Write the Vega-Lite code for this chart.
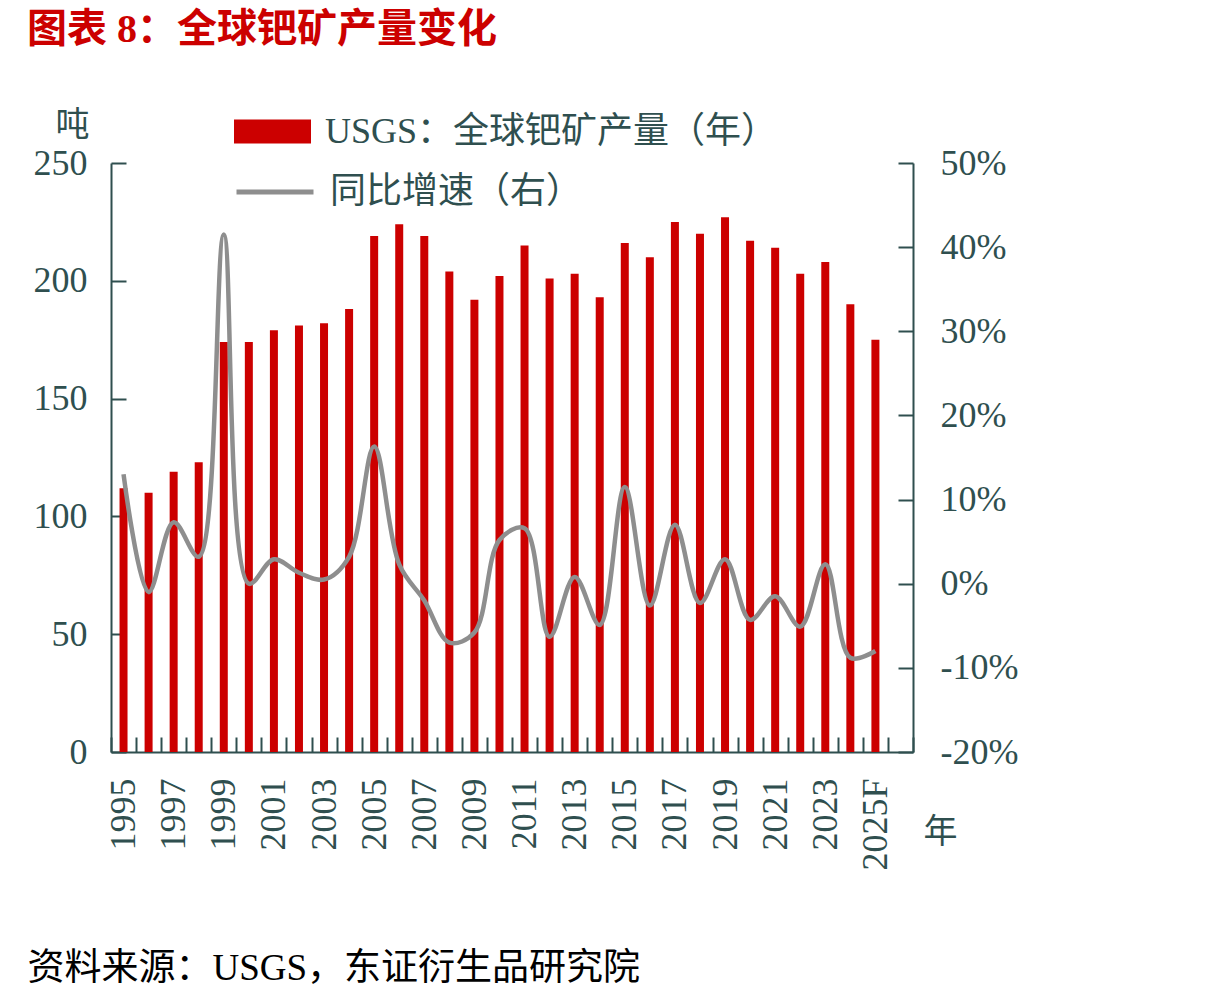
{
  "$schema": "https://vega.github.io/schema/vega-lite/v6.json",
  "width": 802,
  "height": 589,
  "autosize": "none",
  "padding": {"left": 111, "top": 163, "right": 295, "bottom": 247},
  "background": "white",
  "title": {
    "text": "图表 8：全球钯矿产量变化",
    "anchor": "start",
    "frame": "group",
    "dx": -84,
    "offset": 3,
    "baseline": "bottom",
    "font": "Liberation Serif, Noto Sans CJK SC",
    "fontSize": 40,
    "fontWeight": "bold",
    "color": "#CC0000"
  },
  "config": {
    "view": {"stroke": null},
    "axis": {
      "labelFont": "Liberation Serif, Noto Sans CJK SC",
      "titleFont": "Liberation Serif, Noto Sans CJK SC",
      "labelColor": "#2F4F4F",
      "titleColor": "#2F4F4F",
      "domainColor": "#2F4F4F",
      "tickColor": "#2F4F4F",
      "domainWidth": 2,
      "tickWidth": 2,
      "labelFontSize": 36,
      "titleFontSize": 34,
      "titleFontWeight": "normal",
      "grid": false
    },
    "legend": {
      "labelFont": "Liberation Serif, Noto Sans CJK SC",
      "labelFontSize": 36,
      "labelColor": "#2F4F4F",
      "labelLimit": 0,
      "padding": 0
    }
  },
  "data": {
    "values": [
      {"year": "1995", "prod": 112, "yoy": 0.13},
      {"year": "1996", "prod": 110, "yoy": -0.01},
      {"year": "1997", "prod": 119, "yoy": 0.073},
      {"year": "1998", "prod": 123, "yoy": 0.032},
      {"year": "1999", "prod": 174, "yoy": 0.415},
      {"year": "2000", "prod": 174, "yoy": 0.0},
      {"year": "2001", "prod": 179, "yoy": 0.029},
      {"year": "2002", "prod": 181, "yoy": 0.013},
      {"year": "2003", "prod": 182, "yoy": 0.005},
      {"year": "2004", "prod": 188, "yoy": 0.032},
      {"year": "2005", "prod": 219, "yoy": 0.163},
      {"year": "2006", "prod": 224, "yoy": 0.023},
      {"year": "2007", "prod": 219, "yoy": -0.02},
      {"year": "2008", "prod": 204, "yoy": -0.07},
      {"year": "2009", "prod": 192, "yoy": -0.058},
      {"year": "2010", "prod": 202, "yoy": 0.052},
      {"year": "2011", "prod": 215, "yoy": 0.066},
      {"year": "2012", "prod": 201, "yoy": -0.063},
      {"year": "2013", "prod": 203, "yoy": 0.008},
      {"year": "2014", "prod": 193, "yoy": -0.049},
      {"year": "2015", "prod": 216, "yoy": 0.115},
      {"year": "2016", "prod": 210, "yoy": -0.026},
      {"year": "2017", "prod": 225, "yoy": 0.07},
      {"year": "2018", "prod": 220, "yoy": -0.023},
      {"year": "2019", "prod": 227, "yoy": 0.029},
      {"year": "2020", "prod": 217, "yoy": -0.043},
      {"year": "2021", "prod": 214, "yoy": -0.015},
      {"year": "2022", "prod": 203, "yoy": -0.051},
      {"year": "2023", "prod": 208, "yoy": 0.023},
      {"year": "2024", "prod": 190, "yoy": -0.088},
      {"year": "2025F", "prod": 175, "yoy": -0.08}
    ]
  },
  "encoding": {
    "x": {
      "field": "year",
      "type": "nominal",
      "sort": null,
      "scale": {
        "domain": ["1995","1996","1997","1998","1999","2000","2001","2002","2003","2004","2005","2006","2007","2008","2009","2010","2011","2012","2013","2014","2015","2016","2017","2018","2019","2020","2021","2022","2023","2024","2025F"," "],
        "paddingInner": 0,
        "paddingOuter": 0
      },
      "axis": {
        "title": "资料来源：USGS，东证衍生品研究院",
        "titleX": -84,
        "titleY": 216,
        "titleAlign": "left",
        "titleBaseline": "middle",
        "titleAngle": 0,
        "titleFontSize": 37,
        "titleColor": "#000000",
        "labelAngle": -90,
        "labelAlign": "right",
        "labelBaseline": "middle",
        "labelPadding": 41,
        "tickSize": -15,
        "tickBand": "extent",
        "labelExpr": "parseInt(datum.value) % 2 == 1 ? datum.value : ''"
      }
    }
  },
  "layer": [
    {
      "mark": {"type": "bar", "width": 8},
      "encoding": {
        "y": {
          "field": "prod",
          "type": "quantitative",
          "scale": {"domain": [0, 250], "nice": false},
          "axis": {
            "values": [0, 50, 100, 150, 200, 250],
            "title": "吨",
            "titleAngle": 0,
            "titleX": -39,
            "titleY": -38,
            "titleAlign": "center",
            "titleBaseline": "middle",
            "labelPadding": 39,
            "tickSize": -15
          }
        },
        "color": {
          "datum": "USGS：全球钯矿产量（年）",
          "scale": {"range": ["#CC0000"]},
          "legend": {
            "title": null,
            "orient": "none",
            "legendX": 123,
            "legendY": -70,
            "symbolType": "M-1,-0.31H1V0.31H-1Z",
            "symbolSize": 5929,
            "symbolStrokeWidth": 0,
            "labelOffset": 14
          }
        }
      }
    },
    {
      "mark": {"type": "line", "interpolate": "catmull-rom", "strokeWidth": 4.5},
      "encoding": {
        "y": {
          "field": "yoy",
          "type": "quantitative",
          "scale": {"domain": [-0.2, 0.5], "nice": false},
          "axis": {
            "orient": "right",
            "values": [-0.2, -0.1, 0, 0.1, 0.2, 0.3, 0.4, 0.5],
            "labelExpr": "replace(format(datum.value, '.0%'), '−', '-')",
            "title": "年",
            "titleAngle": 0,
            "titleX": 27,
            "titleY": 669,
            "titleAlign": "center",
            "titleBaseline": "middle",
            "labelPadding": 42,
            "tickSize": -15
          }
        },
        "color": {
          "datum": "同比增速（右）",
          "scale": {"range": ["#8E8E8E"]},
          "legend": {
            "title": null,
            "orient": "none",
            "legendX": 123,
            "legendY": -12,
            "symbolType": "stroke",
            "symbolSize": 5929,
            "symbolStrokeWidth": 5,
            "labelOffset": 14
          }
        }
      }
    }
  ],
  "resolve": {"scale": {"y": "independent", "color": "independent"}}
}
